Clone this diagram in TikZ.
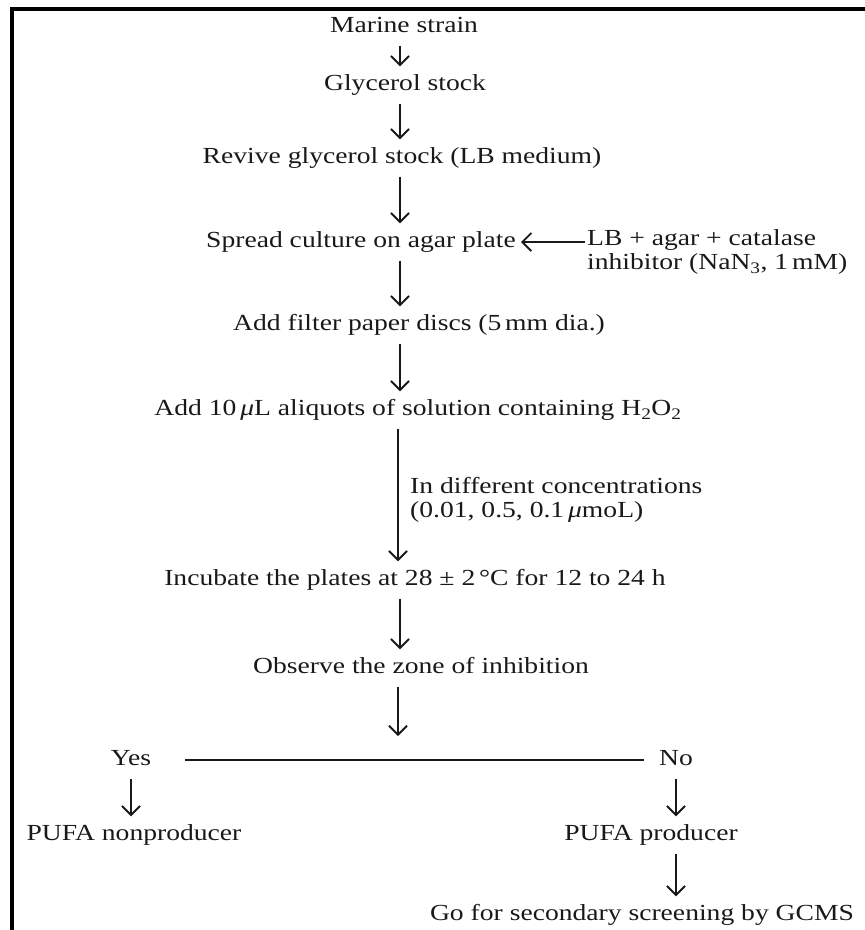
\documentclass[tikz,border=0pt]{standalone}
\usepackage{fontspec}
\setmainfont[FakeStretch=1.2]{Liberation Serif}
\usetikzlibrary{arrows.meta}
\begin{document}
\begin{tikzpicture}[x=1pt,y=-1pt,
  txt/.style={inner sep=0pt, text height=16pt, text depth=5pt,
    font=\fontsize{23}{25}\selectfont, text=black!90},
  txttwo/.style={inner sep=0pt, align=left,
    font=\fontsize{23}{24}\selectfont, text=black!90},
  arr/.style={draw=black!90, line width=1.9pt,
    -{Straight Barb[length=9pt,width=18pt]}, shorten <=8pt, shorten >=8pt},
  ln/.style={draw=black!90, line width=1.8pt}]
\useasboundingbox (0,0) rectangle (865,930);
\draw[line width=3.5pt] (12,930) -- (12,9) -- (865,9);

\coordinate (X) at (400,0);
\coordinate (XL) at (398,0);

\node[txt] (ms) at (404,27) {Marine strain};
\node[txt] (gs) at (405,85) {Glycerol stock};
\node[txt] (rv) at (402,158) {Revive glycerol stock (LB medium)};
\node[txt] (sp) at (361,242) {Spread culture on agar plate};
\node[txttwo, anchor=west] (lb) at (587,252) {LB + agar + catalase\\inhibitor (NaN\textsubscript{3}, 1\,mM)};
\node[txt] (af) at (419,325) {Add filter paper discs (5\,mm dia.)};
\node[txt] (a10) at (418,410) {Add 10\,{\itshape μ}L aliquots of solution containing H\textsubscript{2}O\textsubscript{2}};
\node[txttwo, anchor=west] (conc) at (410,500) {In different concentrations\\(0.01, 0.5, 0.1\,{\itshape μ}moL)};
\node[txt] (inc) at (415,580) {Incubate the plates at 28 ± 2\,°C for 12 to 24 h};
\node[txt] (obs) at (421,668) {Observe the zone of inhibition};
\coordinate (split) at (398,758);
\node[txt] (yes) at (131,760) {Yes};
\node[txt] (no) at (676,760) {No};
\node[txt] (pnp) at (134,835) {PUFA nonproducer};
\node[txt] (pp) at (651,835) {PUFA producer};
\node[txt] (gcms) at (642,915) {Go for secondary screening by GCMS};

\draw[arr] (ms.south -| X) -- (gs.north -| X);
\draw[arr] (gs.south -| X) -- (rv.north -| X);
\draw[arr] (rv.south -| X) -- (sp.north -| X);
\draw[arr, shorten <=2pt, shorten >=5pt] (sp.east -| lb.west) -- (sp.east);
\draw[arr] (sp.south -| X) -- (af.north -| X);
\draw[arr] (af.south -| X) -- (a10.north -| X);
\draw[arr] (a10.south -| XL) -- (inc.north -| XL);
\draw[arr] (inc.south -| X) -- (obs.north -| X);
\draw[arr, shorten >=22pt] (obs.south -| split) -- (split);
\draw[ln, shorten <=34pt, shorten >=15pt] (yes.east) -- (no.west);
\draw[arr] (yes.south) -- (yes.south |- pnp.north);
\draw[arr] (no.south) -- (no.south |- pp.north);
\draw[arr] (pp.south -| no) -- (gcms.north -| no);
\end{tikzpicture}
\end{document}
